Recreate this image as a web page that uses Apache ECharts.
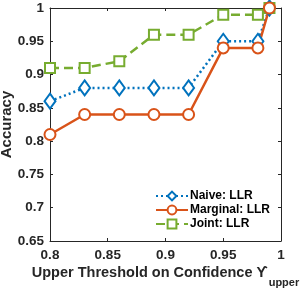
<!DOCTYPE html>
<html><head><meta charset="utf-8">
<script src="https://cdn.jsdelivr.net/npm/echarts@6/dist/echarts.min.js"></script>
<style>html,body{margin:0;padding:0;background:#fff}#c{width:303px;height:289px}</style>
</head><body><div id="c"></div>
<script>
const xVals = [0.8, 0.83, 0.86, 0.89, 0.92, 0.95, 0.98, 0.99];
const naive = [0.86, 0.88, 0.88, 0.88, 0.88, 0.95, 0.95, 1.0];
const marginal = [0.81, 0.84, 0.84, 0.84, 0.84, 0.94, 0.94, 1.0];
const joint = [0.91, 0.91, 0.92, 0.96, 0.96, 0.99, 0.99, 1.0];
const names = ['Naive: LLR', 'Marginal: LLR', 'Joint: LLR'];

const pairs = a => xVals.map((x, i) => [x, a[i]]);
const font = 'Liberation Sans, Arial, sans-serif';
const tc = '#262626';
const chart = echarts.init(document.getElementById('c'));
const axisCommon = {
  nameMoveOverlap: false,
  axisLine: {show: true, lineStyle: {color: tc, width: 1}},
  axisTick: {show: true, inside: true, length: 3, lineStyle: {color: tc}},
  splitLine: {show: false}
};
chart.setOption({
  animation: false,
  grid: {left: 50, right: 22, top: 8, bottom: 48, containLabel: false, outerBoundsMode: 'none'},
  xAxis: [
    Object.assign({type: 'value', min: 0.8, max: 1, interval: 0.05,
      axisLabel: {fontFamily: font, fontWeight: 'bold', fontSize: 13.5, color: tc, margin: 7,
        formatter: v => String(+v.toFixed(2))},
      name: '{m|Upper Threshold on Confidence ϒ}{sub|upper}', nameLocation: 'middle', nameGap: 24,
      nameTextStyle: {fontFamily: font, fontWeight: 'bold', fontSize: 14.5, color: tc,
        rich: {
          m: {fontFamily: font, fontWeight: 'bold', fontSize: 14.5, color: tc, verticalAlign: 'top', lineHeight: 23},
          sub: {fontFamily: font, fontWeight: 'bold', fontSize: 11, color: tc, verticalAlign: 'bottom', lineHeight: 13, padding: [0, 0, 0, 1]}
        }}
    }, axisCommon),
    Object.assign({type: 'value', min: 0.8, max: 1, interval: 0.05, position: 'top',
      axisLabel: {show: false}}, axisCommon)
  ],
  yAxis: [
    Object.assign({type: 'value', min: 0.65, max: 1, interval: 0.05,
      axisLabel: {fontFamily: font, fontWeight: 'bold', fontSize: 13.5, color: tc, margin: 6,
        formatter: v => String(+v.toFixed(2))},
      name: 'Accuracy', nameLocation: 'middle', nameGap: 36,
      nameTextStyle: {fontFamily: font, fontWeight: 'bold', fontSize: 15, color: tc}
    }, axisCommon),
    Object.assign({type: 'value', min: 0.65, max: 1, interval: 0.05, position: 'right',
      axisLabel: {show: false}}, axisCommon)
  ],
  legend: {
    right: 28, top: 185, orient: 'vertical', itemGap: 2, itemWidth: 32, itemHeight: 11,
    textStyle: {fontFamily: font, fontWeight: 'bold', fontSize: 12, color: '#000', padding: [0, 0, 0, -3]},
    data: names
  },
  series: [
    {name: names[0], type: 'line', data: pairs(naive), color: '#0072BD',
      symbol: 'emptyDiamond', symbolSize: [11, 15],
      lineStyle: {width: 2.5, type: [2, 3]}, itemStyle: {borderWidth: 2.2}},
    {name: names[1], type: 'line', data: pairs(marginal), color: '#D95319',
      symbol: 'emptyCircle', symbolSize: 11,
      lineStyle: {width: 2.5}, itemStyle: {borderWidth: 2.2}},
    {name: names[2], type: 'line', data: pairs(joint), color: '#77AC30',
      symbol: 'emptyRect', symbolSize: 10,
      lineStyle: {width: 2.5, type: [9, 5]}, itemStyle: {borderWidth: 2.2}, z: 1}
  ]
});
</script></body></html>
